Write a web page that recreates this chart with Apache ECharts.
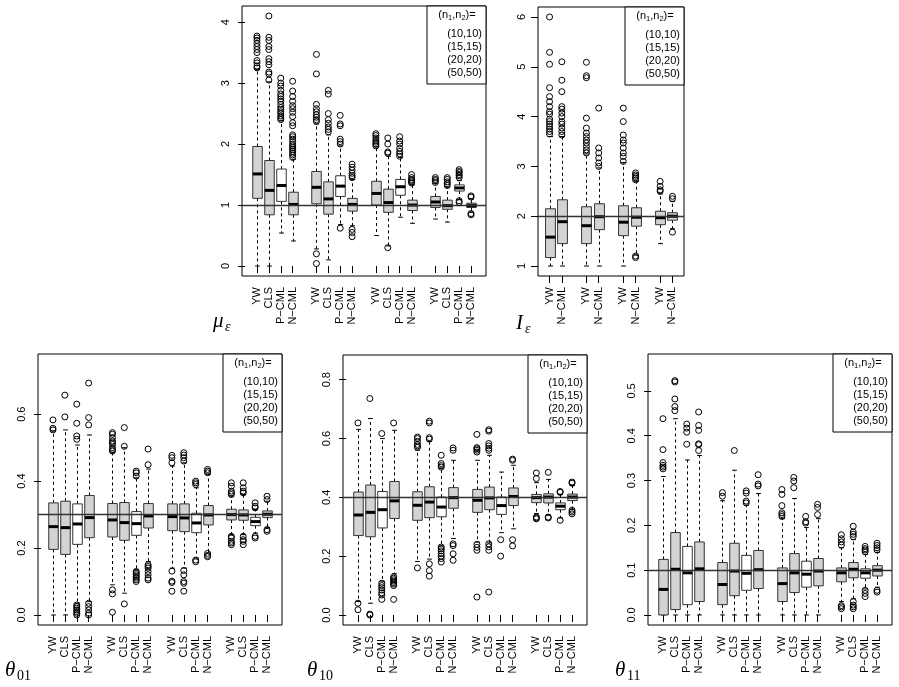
<!DOCTYPE html>
<html>
<head>
<meta charset="utf-8">
<title>Estimator boxplots</title>
<script src="https://cdn.jsdelivr.net/npm/echarts@6/dist/echarts.min.js"></script>
<style>
  html, body { margin: 0; padding: 0; background: #fff; }
  #main { width: 899px; height: 687px; }
</style>
</head>
<body>
<div id="main"></div>
<script>
const methods4 = ['YW', 'CLS', 'P\u2212CML', 'N\u2212CML'];
const methods2 = ['YW', 'N\u2212CML'];
const sampleSizes = ['(10,10)', '(15,15)', '(20,20)', '(50,50)'];

// each box: [lower whisker, Q1, median, Q3, upper whisker], by sample size then method
const muStats = [
  [0, 1.11, 1.51, 1.96, 3.22], [0, 0.84, 1.24, 1.73, 3.02], [0.54, 1.06, 1.32, 1.59, 2.38], [0.41, 0.84, 1.01, 1.21, 1.75],
  [0.28, 1.02, 1.29, 1.55, 2.33], [0.10, 0.85, 1.10, 1.38, 2.15], [0.68, 1.14, 1.31, 1.48, 1.97], [0.66, 0.90, 1.01, 1.11, 1.42],
  [0.50, 1.00, 1.19, 1.39, 1.95], [0.33, 0.88, 1.04, 1.26, 1.80], [0.80, 1.16, 1.30, 1.42, 1.78], [0.70, 0.91, 1.00, 1.08, 1.33],
  [0.77, 0.96, 1.05, 1.14, 1.35], [0.72, 0.93, 0.99, 1.08, 1.29], [1.09, 1.23, 1.28, 1.33, 1.40], [0.88, 0.96, 0.99, 1.03, 1.10]
];
const muOutliers = [
  [3.25, 3.28, 3.33, 3.37, 3.50, 3.55, 3.60, 3.65, 3.70, 3.74, 3.77],
  [3.05, 3.15, 3.18, 3.30, 3.35, 3.40, 3.55, 3.60, 3.70, 3.75, 4.10],
  [2.40, 2.43, 2.46, 2.50, 2.53, 2.57, 2.60, 2.65, 2.70, 2.74, 2.78, 2.82, 2.88, 2.95, 3.00, 3.08],
  [1.78, 1.82, 1.85, 1.88, 1.91, 1.94, 1.97, 2.00, 2.04, 2.08, 2.12, 2.15, 2.30, 2.35, 2.45, 2.52, 2.58, 2.63, 2.70, 2.78, 2.87, 3.03],
  [0.20, 0.04, 2.37, 2.40, 2.44, 2.48, 2.53, 2.58, 2.65, 3.15, 3.47],
  [2.20, 2.24, 2.28, 2.34, 2.40, 2.50, 2.82, 2.88],
  [0.62, 2.00, 2.04, 2.08, 2.30, 2.33, 2.47],
  [0.60, 0.55, 0.48, 1.45, 1.48, 1.52, 1.57, 1.62, 1.67],
  [1.97, 2.00, 2.03, 2.06, 2.10, 2.14, 2.17],
  [0.30, 1.85, 1.87, 2.00, 2.10],
  [1.80, 1.84, 1.88, 1.93, 2.00, 2.05, 2.12],
  [1.36, 1.38, 1.40, 1.42, 1.45, 1.50],
  [1.37, 1.40, 1.42, 1.45],
  [1.32, 1.35, 1.38, 1.42, 1.45],
  [1.04, 1.07, 1.45, 1.48, 1.50, 1.53, 1.55, 1.58],
  [0.86, 0.84, 1.13, 1.15]
];
const muTicks = [0, 1, 2, 3, 4];

const iStats = [
  [1.00, 1.17, 1.58, 2.15, 3.60], [1.00, 1.45, 1.89, 2.33, 3.60],
  [1.00, 1.45, 1.81, 2.19, 3.25], [1.00, 1.73, 1.99, 2.25, 2.97],
  [1.00, 1.61, 1.88, 2.21, 3.08], [1.22, 1.80, 1.98, 2.17, 2.70],
  [1.45, 1.83, 1.97, 2.10, 2.45], [1.75, 1.92, 2.00, 2.07, 2.30]
];
const iOutliers = [
  [3.65, 3.70, 3.75, 3.80, 3.85, 3.90, 3.95, 4.05, 4.10, 4.20, 4.30, 4.40, 4.58, 5.05, 5.29, 6.00],
  [3.63, 3.70, 3.77, 3.85, 3.90, 4.00, 4.07, 4.15, 4.20, 4.50, 4.73, 5.10],
  [3.27, 3.33, 3.40, 3.47, 3.53, 3.60, 3.67, 3.77, 3.97, 4.78, 4.82, 5.09],
  [3.00, 3.07, 3.17, 3.27, 3.37, 4.17],
  [3.10, 3.20, 3.27, 3.37, 3.47, 3.53, 3.63, 3.90, 4.17],
  [1.20, 1.17, 2.73, 2.77, 2.80, 2.83, 2.87],
  [2.50, 2.53, 2.60, 2.70],
  [1.68, 2.35, 2.40]
];
const iTicks = [1, 2, 3, 4, 5, 6];

const t01Stats = [
  [0, 0.196, 0.264, 0.335, 0.550], [0, 0.181, 0.261, 0.340, 0.553], [0.035, 0.211, 0.272, 0.332, 0.508], [0.040, 0.231, 0.291, 0.357, 0.538],
  [0.090, 0.233, 0.284, 0.333, 0.485], [0.065, 0.223, 0.276, 0.336, 0.500], [0.135, 0.238, 0.273, 0.309, 0.410], [0.160, 0.260, 0.296, 0.333, 0.436],
  [0.140, 0.252, 0.294, 0.332, 0.445], [0.140, 0.249, 0.290, 0.332, 0.455], [0.170, 0.246, 0.275, 0.304, 0.380], [0.185, 0.269, 0.299, 0.327, 0.420],
  [0.240, 0.284, 0.300, 0.316, 0.355], [0.240, 0.283, 0.299, 0.314, 0.360], [0.245, 0.267, 0.279, 0.292, 0.315], [0.262, 0.291, 0.301, 0.311, 0.340]
];
const t01Outliers = [
  [0.553, 0.558, 0.583],
  [0.592, 0.657],
  [0.525, 0.535, 0.573, 0.630, 0.030, 0.025, 0.020, 0.015, 0.010, 0.005, 0.000],
  [0.568, 0.590, 0.693, 0.035, 0.025, 0.015, 0.005, 0.000],
  [0.490, 0.495, 0.500, 0.510, 0.515, 0.520, 0.530, 0.540, 0.545, 0.075, 0.063, 0.008],
  [0.504, 0.560, 0.033],
  [0.415, 0.425, 0.430, 0.130, 0.125, 0.120, 0.115, 0.110, 0.105, 0.100],
  [0.449, 0.496, 0.150, 0.145, 0.140, 0.130, 0.120, 0.110, 0.105],
  [0.455, 0.470, 0.477, 0.131, 0.101, 0.097, 0.071],
  [0.460, 0.470, 0.478, 0.485, 0.133, 0.120, 0.100, 0.095, 0.071],
  [0.390, 0.395, 0.400, 0.164, 0.159],
  [0.425, 0.430, 0.435, 0.184, 0.178, 0.174],
  [0.360, 0.365, 0.370, 0.385, 0.395, 0.235, 0.230, 0.220, 0.215, 0.210],
  [0.365, 0.370, 0.380, 0.395, 0.235, 0.225, 0.220, 0.210],
  [0.320, 0.325, 0.335, 0.235, 0.230],
  [0.345, 0.355, 0.255, 0.250]
];
const t01Ticks = [0, 0.2, 0.4, 0.6];

const t10Stats = [
  [0.046, 0.270, 0.340, 0.418, 0.631], [0.040, 0.266, 0.349, 0.442, 0.668], [0.115, 0.296, 0.358, 0.420, 0.600], [0.140, 0.328, 0.388, 0.454, 0.628],
  [0.182, 0.322, 0.373, 0.419, 0.560], [0.190, 0.331, 0.384, 0.436, 0.590], [0.235, 0.334, 0.367, 0.401, 0.500], [0.260, 0.363, 0.399, 0.433, 0.526],
  [0.248, 0.349, 0.390, 0.427, 0.526], [0.245, 0.358, 0.398, 0.435, 0.543], [0.280, 0.342, 0.372, 0.401, 0.486], [0.293, 0.372, 0.403, 0.432, 0.509],
  [0.345, 0.382, 0.399, 0.410, 0.450], [0.340, 0.381, 0.401, 0.412, 0.461], [0.330, 0.358, 0.370, 0.381, 0.410], [0.360, 0.389, 0.401, 0.411, 0.440]
];
const t10Outliers = [
  [0.653, 0.040, 0.018],
  [0.736, 0.003, 0.000],
  [0.617, 0.108, 0.100, 0.093, 0.085, 0.075, 0.068, 0.053],
  [0.653, 0.130, 0.125, 0.120, 0.115, 0.110, 0.105, 0.100, 0.053],
  [0.570, 0.575, 0.580, 0.590, 0.600, 0.605, 0.160],
  [0.598, 0.603, 0.653, 0.659, 0.174, 0.151, 0.132],
  [0.503, 0.508, 0.515, 0.543, 0.231, 0.225, 0.218, 0.208, 0.200, 0.192, 0.180],
  [0.560, 0.568, 0.242, 0.236, 0.208, 0.186],
  [0.554, 0.560, 0.565, 0.569, 0.614, 0.240, 0.230, 0.220, 0.061],
  [0.560, 0.567, 0.575, 0.583, 0.625, 0.630, 0.242, 0.232, 0.220, 0.078],
  [0.256, 0.200],
  [0.526, 0.530, 0.256, 0.235],
  [0.464, 0.483, 0.333, 0.330, 0.327],
  [0.485, 0.333, 0.330],
  [0.420, 0.417, 0.322],
  [0.452, 0.448, 0.356, 0.350, 0.344]
];
const t10Ticks = [0, 0.2, 0.4, 0.6, 0.8];

const t11Stats = [
  [0, 0, 0.057, 0.124, 0.309], [0, 0.012, 0.102, 0.184, 0.438], [0, 0.023, 0.094, 0.153, 0.346], [0, 0.030, 0.103, 0.163, 0.356],
  [0, 0.023, 0.068, 0.117, 0.255], [0, 0.043, 0.098, 0.160, 0.323], [0, 0.055, 0.093, 0.133, 0.245], [0, 0.059, 0.101, 0.144, 0.271],
  [0, 0.030, 0.070, 0.105, 0.215], [0, 0.050, 0.094, 0.137, 0.260], [0, 0.062, 0.091, 0.120, 0.195], [0, 0.065, 0.098, 0.126, 0.215],
  [0.030, 0.074, 0.094, 0.105, 0.150], [0.036, 0.083, 0.102, 0.117, 0.168], [0.058, 0.082, 0.094, 0.103, 0.135], [0.062, 0.087, 0.100, 0.110, 0.140]
];
const t11Outliers = [
  [0.326, 0.330, 0.334, 0.340, 0.369, 0.438],
  [0.456, 0.465, 0.482, 0.520, 0.523],
  [0.381, 0.408, 0.417, 0.426],
  [0.367, 0.380, 0.382, 0.412, 0.423, 0.453],
  [0.265, 0.273],
  [0.367],
  [0.250, 0.254, 0.272, 0.277],
  [0.288, 0.292, 0.313],
  [0.220, 0.224, 0.228, 0.244, 0.269, 0.280],
  [0.284, 0.299, 0.307],
  [0.205, 0.208, 0.220],
  [0.224, 0.240, 0.247],
  [0.156, 0.163, 0.170, 0.179, 0.021, 0.018, 0.014],
  [0.175, 0.180, 0.185, 0.198, 0.030, 0.022, 0.018, 0.014],
  [0.141, 0.145, 0.148, 0.153, 0.055, 0.048, 0.041],
  [0.145, 0.150, 0.155, 0.160, 0.055, 0.051]
];
const t11Ticks = [0, 0.1, 0.2, 0.3, 0.4, 0.5];

const trueValues = [1, 2, 0.3, 0.4, 0.1];

const FONT = '"Liberation Sans", Arial, Helvetica, sans-serif';
const SERIF = '"Liberation Serif", "DejaVu Serif", serif';

// layout of the five panels
const panels = [
  { grid: { left: 242, top: 6, width: 244, height: 270 }, x: [-0.26, 20.26], y: [-0.164, 4.264], ticks: muTicks, dec: 0,
    methods: methods4, stats: muStats, outliers: muOutliers, name: ['\u03bc', '\u03b5', true], lx: 213, ly: 321 },
  { grid: { left: 538, top: 7, width: 146, height: 269 }, x: [0.06, 11.94], y: [0.8, 6.2], ticks: iTicks, dec: 0,
    methods: methods2, stats: iStats, outliers: iOutliers, name: ['I', '\u03b5', true], lx: 516, ly: 323 },
  { grid: { left: 38, top: 354, width: 244, height: 271 }, x: [-0.26, 20.26], y: [-0.03, 0.78], ticks: t01Ticks, dec: 1,
    methods: methods4, stats: t01Stats, outliers: t01Outliers, name: ['\u03b8', '01', false], lx: 5, ly: 670 },
  { grid: { left: 343, top: 355, width: 244, height: 270 }, x: [-0.26, 20.26], y: [-0.034, 0.884], ticks: t10Ticks, dec: 1,
    methods: methods4, stats: t10Stats, outliers: t10Outliers, name: ['\u03b8', '10', false], lx: 307, ly: 670 },
  { grid: { left: 648, top: 354, width: 244, height: 271 }, x: [-0.26, 20.26], y: [-0.0224, 0.5824], ticks: t11Ticks, dec: 1,
    methods: methods4, stats: t11Stats, outliers: t11Outliers, name: ['\u03b8', '11', false], lx: 615, ly: 670 }
];

function renderBox(params, api) {
  const xv = api.value(0);
  const lo = api.coord([xv, api.value(1)]);
  const q1 = api.coord([xv, api.value(2)]);
  const md = api.coord([xv, api.value(3)]);
  const q3 = api.coord([xv, api.value(4)]);
  const hi = api.coord([xv, api.value(5)]);
  const hw = api.size([0.4, 0])[0];
  const cx = Math.round(lo[0]) + 0.5;
  const dash = { stroke: '#000', lineWidth: 1, lineDash: [3, 3] };
  const solid = { stroke: '#000', lineWidth: 1 };
  return {
    type: 'group',
    children: [
      { type: 'line', shape: { x1: cx, y1: q3[1], x2: cx, y2: hi[1] }, style: dash },
      { type: 'line', shape: { x1: cx, y1: q1[1], x2: cx, y2: lo[1] }, style: dash },
      { type: 'line', shape: { x1: cx - hw / 2, y1: hi[1], x2: cx + hw / 2, y2: hi[1] }, style: solid },
      { type: 'line', shape: { x1: cx - hw / 2, y1: lo[1], x2: cx + hw / 2, y2: lo[1] }, style: solid },
      { type: 'rect', shape: { x: cx - hw, y: q3[1], width: 2 * hw, height: q1[1] - q3[1] },
        style: { fill: api.visual('color'), stroke: '#333', lineWidth: 1 } },
      { type: 'line', shape: { x1: cx - hw, y1: md[1], x2: cx + hw, y2: md[1] }, style: { stroke: '#000', lineWidth: 3 } }
    ]
  };
}

const grids = [], xAxes = [], yAxes = [], series = [], graphics = [];

panels.forEach((p, i) => {
  const nm = p.methods.length;
  const positions = [], labels = [];
  sampleSizes.forEach((s, g) => {
    p.methods.forEach((m, k) => {
      positions.push(g * (nm + 1) + k + 1);
      labels.push(m);
    });
  });

  grids.push(Object.assign({ show: true, borderColor: '#000', borderWidth: 1, backgroundColor: 'transparent' }, p.grid));

  xAxes.push({
    type: 'value', gridIndex: i, min: p.x[0], max: p.x[1],
    splitLine: { show: false }, axisLine: { show: false },
    axisTick: { show: true, customValues: positions, length: 7, lineStyle: { color: '#000' } },
    axisLabel: {
      customValues: positions, rotate: 90, margin: 11, fontSize: 11, fontFamily: FONT, color: '#000',
      formatter: v => labels[positions.indexOf(Math.round(v))]
    }
  });

  yAxes.push({
    type: 'value', gridIndex: i, min: p.y[0], max: p.y[1],
    splitLine: { show: false }, axisLine: { show: false },
    axisTick: { show: true, customValues: p.ticks, length: 7, lineStyle: { color: '#000' } },
    axisLabel: {
      customValues: p.ticks, rotate: 90, margin: 11, fontSize: 11, fontFamily: FONT, color: '#000',
      formatter: v => Number(v).toFixed(p.dec)
    }
  });

  series.push({
    type: 'custom', xAxisIndex: i, yAxisIndex: i, renderItem: renderBox, silent: true,
    data: p.stats.map((st, j) => ({
      value: [positions[j]].concat(st),
      itemStyle: { color: labels[j] === 'P\u2212CML' ? '#ffffff' : '#d3d3d3' }
    }))
  });

  const pts = [];
  p.outliers.forEach((arr, j) => arr.forEach(v => pts.push([positions[j], v])));
  series.push({
    type: 'scatter', xAxisIndex: i, yAxisIndex: i, silent: true, z: 5,
    symbol: 'circle', symbolSize: 6,
    itemStyle: { color: 'none', borderColor: '#000', borderWidth: 1, opacity: 1 },
    data: pts,
    markLine: {
      silent: true, symbol: ['none', 'none'], label: { show: false },
      lineStyle: { color: '#333', width: 1.3, type: 'solid' },
      data: [{ yAxis: trueValues[i] }]
    }
  });

  // legend box of sample sizes
  const lx = p.grid.left + p.grid.width - 59;
  const ly = p.grid.top;
  graphics.push({ type: 'rect', z: 100, shape: { x: lx, y: ly, width: 59, height: 78 },
    style: { fill: '#fff', stroke: '#000', lineWidth: 1 } });
  graphics.push({ type: 'text', z: 101, x: lx + 30, y: ly + 9,
    style: { text: '{n|(n}{s|1}{n|,n}{s|2}{n|)=}', align: 'center', verticalAlign: 'middle',
      textAlign: 'center', textVerticalAlign: 'middle', fill: '#000',
      rich: { n: { fontSize: 11, fontFamily: FONT, lineHeight: 14, verticalAlign: 'middle' },
              s: { fontSize: 7.5, fontFamily: FONT, lineHeight: 7, verticalAlign: 'bottom' } } } });
  sampleSizes.forEach((s, k) => {
    graphics.push({ type: 'text', z: 101, x: lx + 55, y: ly + 27.5 + 13 * k,
      style: { text: s, font: '11px ' + FONT, fill: '#000', align: 'right', verticalAlign: 'middle',
        textAlign: 'right', textVerticalAlign: 'middle' } });
  });

  // panel name below the axis
  graphics.push({ type: 'text', x: p.lx, y: p.ly,
    style: { text: p.name[0], font: 'italic 21px ' + SERIF, fill: '#000', align: 'left', verticalAlign: 'middle',
      textAlign: 'left', textVerticalAlign: 'middle' } });
  graphics.push({ type: 'text', x: p.lx + (p.name[0] === 'I' ? 9 : 12), y: p.ly + 6,
    style: { text: p.name[1], font: (p.name[2] ? 'italic ' : '') + '14px ' + SERIF, fill: '#000',
      align: 'left', verticalAlign: 'middle', textAlign: 'left', textVerticalAlign: 'middle' } });
});

const chart = echarts.init(document.getElementById('main'), null, { renderer: 'canvas' });
chart.setOption({
  animation: false,
  backgroundColor: '#fff',
  grid: grids,
  xAxis: xAxes,
  yAxis: yAxes,
  series: series,
  graphic: { elements: graphics }
});
</script>
</body>
</html>
